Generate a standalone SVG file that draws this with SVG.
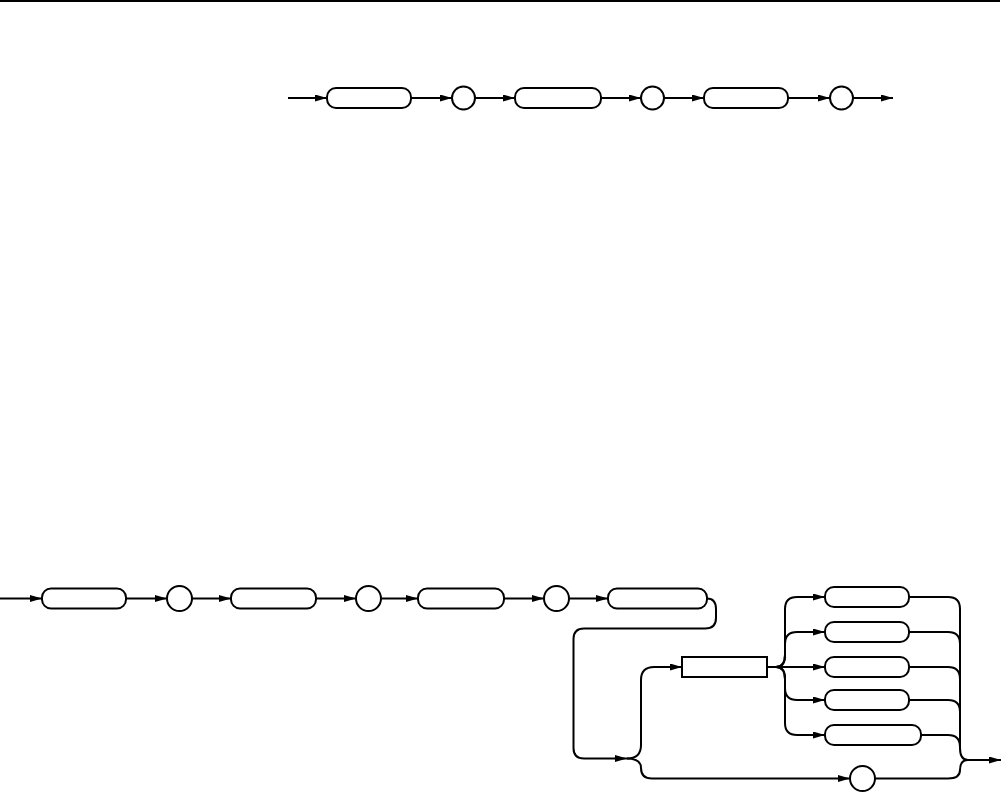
<svg xmlns="http://www.w3.org/2000/svg" width="1008" height="792" viewBox="0 0 1008 792">
<style>
.n{fill:#fff;stroke:#000;stroke-width:2}
.c{fill:none;stroke:#000;stroke-width:2}
</style>
<defs>
<marker id="a" markerUnits="userSpaceOnUse" markerWidth="14" markerHeight="10" refX="12" refY="3.5" orient="auto">
<path d="M0,0 L12,3.5 L0,7 z" fill="#000"/>
</marker>
</defs>
<rect width="1008" height="792" fill="#fff"/>
<line x1="0" y1="1" x2="1000" y2="1" stroke="#000" stroke-width="2"/>
<g id="connectors" class="c">
<path class="c" d="M288,98 H327" marker-end="url(#a)"/>
<path class="c" d="M411,98 H452" marker-end="url(#a)"/>
<path class="c" d="M475,98 H515" marker-end="url(#a)"/>
<path class="c" d="M601,98 H641" marker-end="url(#a)"/>
<path class="c" d="M664,98 H704" marker-end="url(#a)"/>
<path class="c" d="M788,98 H830" marker-end="url(#a)"/>
<path class="c" d="M853,98 H893" marker-end="url(#a)"/>
<path class="c" d="M0,598.5 H42" marker-end="url(#a)"/>
<path class="c" d="M126,598.5 H167" marker-end="url(#a)"/>
<path class="c" d="M192,598.5 H231" marker-end="url(#a)"/>
<path class="c" d="M316,598.5 H356" marker-end="url(#a)"/>
<path class="c" d="M381,598.5 H418" marker-end="url(#a)"/>
<path class="c" d="M504,598.5 H544" marker-end="url(#a)"/>
<path class="c" d="M569,598.5 H608" marker-end="url(#a)"/>
<path class="c" d="M707,598.5 Q716,598.5 716,609 V618 Q716,628.5 705,628.5 H584 Q573.5,628.5 573.5,639 V748 Q573.5,758.5 584,758.5 H627" marker-end="url(#a)"/>
<path class="c" d="M627,758.5 Q641,758.5 641,745 V680 Q641,667 654,667 H682" marker-end="url(#a)"/>
<path class="c" d="M627,758.5 Q641,758.5 641,768 Q641,778.5 652,778.5 H850" marker-end="url(#a)"/>
<path class="c" d="M767,667 H776 Q785,667 785,655 V609 Q785,597 797,597 H825" marker-end="url(#a)"/>
<path class="c" d="M776,667 Q785,667 785,655 V644 Q785,632 797,632 H825" marker-end="url(#a)"/>
<path class="c" d="M767,667 H825" marker-end="url(#a)"/>
<path class="c" d="M776,667 Q785,667 785,679 V688 Q785,700 797,700 H825" marker-end="url(#a)"/>
<path class="c" d="M776,667 Q785,667 785,679 V723 Q785,735 797,735 H825" marker-end="url(#a)"/>
<path class="c" d="M909,597 H948 Q960,597 960,609 V748 Q960,760 968,760"/>
<path class="c" d="M909,632 H948 Q960,632 960,644"/>
<path class="c" d="M909,667 H948 Q960,667 960,679"/>
<path class="c" d="M909,700 H948 Q960,700 960,712"/>
<path class="c" d="M921,735 H948 Q960,735 960,747"/>
<path class="c" d="M875,778.5 H948 Q960,778.5 960,770 Q960,760 968,760"/>
<path class="c" d="M968,760 H1001" marker-end="url(#a)"/>
</g>
<g id="t1"><rect class="n" x="327" y="88" width="84" height="20" rx="9"/></g>
<g id="t2"><circle class="n" cx="463.5" cy="98" r="11.5"/></g>
<g id="t3"><rect class="n" x="515" y="88" width="86" height="20" rx="9"/></g>
<g id="t4"><circle class="n" cx="652.5" cy="98" r="11.5"/></g>
<g id="t5"><rect class="n" x="704" y="88" width="84" height="20" rx="9"/></g>
<g id="t6"><circle class="n" cx="841.5" cy="98" r="11.5"/></g>
<g id="b1"><rect class="n" x="42" y="588.5" width="84" height="20" rx="9"/></g>
<g id="b2"><circle class="n" cx="179.5" cy="598.5" r="12.5"/></g>
<g id="b3"><rect class="n" x="231" y="588.5" width="85" height="20" rx="9"/></g>
<g id="b4"><circle class="n" cx="368.5" cy="598.5" r="12.5"/></g>
<g id="b5"><rect class="n" x="418" y="588.5" width="86" height="20" rx="9"/></g>
<g id="b6"><circle class="n" cx="556.5" cy="598.5" r="12.5"/></g>
<g id="b7"><rect class="n" x="608" y="588.5" width="99" height="20" rx="9"/></g>
<g id="b8"><rect class="n" x="682" y="657" width="85" height="20"/></g>
<g id="o1"><rect class="n" x="825" y="587" width="84" height="20" rx="9"/></g>
<g id="o2"><rect class="n" x="825" y="622" width="84" height="20" rx="9"/></g>
<g id="o3"><rect class="n" x="825" y="657" width="84" height="20" rx="9"/></g>
<g id="o4"><rect class="n" x="825" y="690" width="84" height="20" rx="9"/></g>
<g id="o5"><rect class="n" x="825" y="725" width="96" height="20" rx="9"/></g>
<g id="b9"><circle class="n" cx="862.5" cy="778.5" r="12.5"/></g>
</svg>
